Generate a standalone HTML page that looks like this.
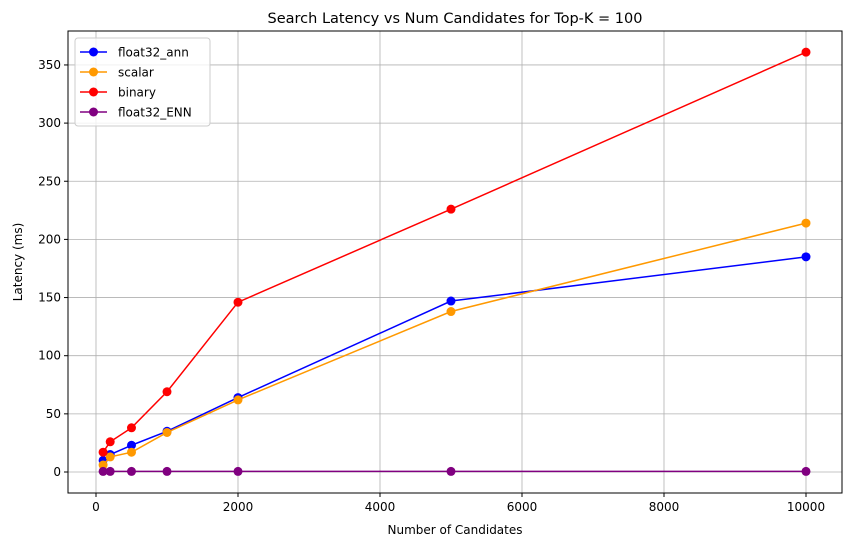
<!DOCTYPE html>
<html><head><meta charset="utf-8"><style>
body{margin:0;background:#fff}
svg text{font-family:"DejaVu Sans","Liberation Sans",sans-serif;fill:#000}
</style></head><body>
<svg id="s" width="851" height="546" xmlns="http://www.w3.org/2000/svg">
<rect width="851" height="546" fill="#fff"/>
<text x="455" y="23" font-size="14.5" text-anchor="middle">Search Latency vs Num Candidates for Top-K = 100</text>
<g id="grid"></g>
<g id="series"></g>
<rect x="68" y="31" width="774" height="462" fill="none" stroke="#000" stroke-width="1"/>
<text x="455" y="534" font-size="12" text-anchor="middle">Number of Candidates</text>
<text transform="translate(22,262) rotate(-90)" font-size="12" text-anchor="middle">Latency (ms)</text>
<g id="legend">
<rect x="75" y="38" width="135" height="88" rx="3" fill="#fff" fill-opacity="0.8" stroke="#ccc"/>
</g>
</svg>
<script>
const NS="http://www.w3.org/2000/svg";
const X=v=>96+v*0.071, Y=v=>472-v*1.163;
function el(p,t,a,txt){const e=document.createElementNS(NS,t);for(const k in a)e.setAttribute(k,a[k]);if(txt!==undefined)e.textContent=txt;document.getElementById(p).appendChild(e);return e;}
for(let v=0;v<=10000;v+=2000){const x=X(v);el('grid','line',{x1:x,x2:x,y1:31,y2:493,stroke:'#b0b0b0','stroke-width':0.8});el('grid','line',{x1:x,x2:x,y1:493,y2:497,stroke:'#000'});el('grid','text',{x:x,y:511,'font-size':12,'text-anchor':'middle'},v);}
for(let v=0;v<=350;v+=50){const y=Y(v);el('grid','line',{x1:68,x2:842,y1:y,y2:y,stroke:'#b0b0b0','stroke-width':0.8});el('grid','line',{x1:64,x2:68,y1:y,y2:y,stroke:'#000'});el('grid','text',{x:61,y:y+4,'font-size':12,'text-anchor':'end'},v);}
const xs=[100,200,500,1000,2000,5000,10000];
const S=[["float32_ann","#0000ff",[10,15,23,35,64,147,185]],["scalar","#ff9900",[6,13,17,34,62,138,214]],["binary","#ff0000",[17,26,38,69,146,226,361]],["float32_ENN","#800080",[0.5,0.5,0.5,0.5,0.5,0.5,0.5]]];
S.forEach(([n,c,d],i)=>{
 el('series','polyline',{points:xs.map((x,j)=>X(x)+','+Y(d[j])).join(' '),fill:'none',stroke:c,'stroke-width':1.5});
 xs.forEach((x,j)=>el('series','circle',{cx:X(x),cy:Y(d[j]),r:4.5,fill:c}));
 const ly=52+i*20;
 el('legend','line',{x1:80,x2:107,y1:ly,y2:ly,stroke:c,'stroke-width':1.5});
 el('legend','circle',{cx:93.5,cy:ly,r:4.5,fill:c});
 el('legend','text',{x:118,y:ly+4.5,'font-size':12},n);
});
</script>
</body></html>
